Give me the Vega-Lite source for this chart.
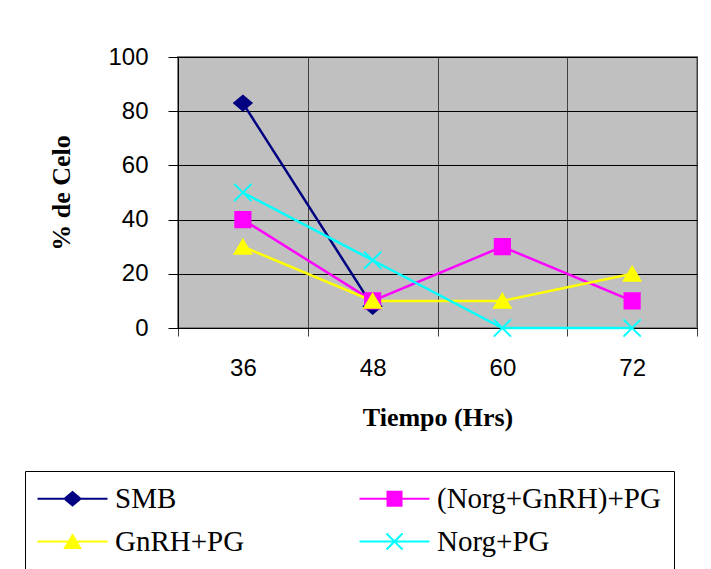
{
  "$schema": "https://vega.github.io/schema/vega-lite/v6.json",
  "width": 519,
  "height": 271,
  "autosize": "none",
  "padding": {"left": 178, "top": 57, "right": 14, "bottom": 241},
  "background": "white",
  "data": {
    "values": [
      {"serie": "SMB", "tiempo": "36", "celo": 83},
      {"serie": "SMB", "tiempo": "48", "celo": 8},
      {"serie": "(Norg+GnRH)+PG", "tiempo": "36", "celo": 40},
      {"serie": "(Norg+GnRH)+PG", "tiempo": "48", "celo": 10},
      {"serie": "(Norg+GnRH)+PG", "tiempo": "60", "celo": 30},
      {"serie": "(Norg+GnRH)+PG", "tiempo": "72", "celo": 10},
      {"serie": "GnRH+PG", "tiempo": "36", "celo": 30},
      {"serie": "GnRH+PG", "tiempo": "48", "celo": 10},
      {"serie": "GnRH+PG", "tiempo": "60", "celo": 10},
      {"serie": "GnRH+PG", "tiempo": "72", "celo": 20},
      {"serie": "Norg+PG", "tiempo": "36", "celo": 50},
      {"serie": "Norg+PG", "tiempo": "48", "celo": 25},
      {"serie": "Norg+PG", "tiempo": "60", "celo": 0},
      {"serie": "Norg+PG", "tiempo": "72", "celo": 0}
    ]
  },
  "encoding": {
    "x": {
      "field": "tiempo",
      "type": "nominal",
      "bandPosition": 0.5,
      "scale": {"type": "band", "paddingInner": 0, "paddingOuter": 0},
      "axis": {
        "title": "Tiempo (Hrs)",
        "labelAngle": 0,
        "tickBand": "extent",
        "grid": true,
        "gridColor": "#404040",
        "gridWidth": 1,
        "tickColor": "#404040",
        "tickSize": 8,
        "domainColor": "black",
        "labelPadding": 20,
        "titlePadding": 24
      }
    },
    "y": {
      "field": "celo",
      "type": "quantitative",
      "scale": {"domain": [0, 100], "nice": false},
      "axis": {
        "title": "% de Celo",
        "values": [0, 20, 40, 60, 80, 100],
        "grid": true,
        "gridColor": "black",
        "gridWidth": 1,
        "tickColor": "black",
        "tickSize": 10,
        "domainColor": "black",
        "labelPadding": 20,
        "titlePadding": 33
      }
    }
  },
  "layer": [
    {
      "mark": {"type": "line", "strokeWidth": 2.5},
      "encoding": {
        "color": {
          "field": "serie",
          "type": "nominal",
          "scale": {
            "domain": ["SMB", "(Norg+GnRH)+PG", "GnRH+PG", "Norg+PG"],
            "range": ["#000080", "#FF00FF", "#FFFF00", "#00FFFF"]
          },
          "legend": {
            "title": null,
            "orient": "none",
            "direction": "horizontal",
            "legendX": -153,
            "legendY": 414,
            "columns": 2,
            "columnPadding": 110,
            "rowPadding": 13,
            "padding": 13,
            "strokeColor": "black",
            "fillColor": "white",
            "symbolSize": 256,
            "symbolStrokeWidth": 2,
            "labelOffset": 48,
            "labelFont": "Liberation Serif",
            "labelFontSize": 29,
            "labelColor": "black",
            "labelLimit": 400,
            "encode": {
              "symbols": {
                "update": {
                  "shape": {"signal": "datum.value === 'SMB' ? 'M-1.875,0H6.875M2.5,-0.85L3.5,0L2.5,0.85L1.5,0Z' : datum.value === '(Norg+GnRH)+PG' ? 'M-1.875,0H6.875M1.625,-0.875H3.375V0.875H1.625Z' : datum.value === 'GnRH+PG' ? 'M-1.875,0H6.875M2.5,-0.8L3.45,0.8H1.55Z' : 'M-1.875,0H6.875M1.5,-1L3.5,1M1.5,1L3.5,-1'"},
                  "fill": {"signal": "scale('color', datum.value)"},
                  "strokeWidth": {"value": 2},
                  "opacity": {"value": 1}
                }
              }
            }
          }
        }
      }
    },
    {
      "transform": [{"filter": {"field": "serie", "equal": "SMB"}}],
      "mark": {"type": "point", "shape": "M0,-0.85L1,0L0,0.85L-1,0Z", "filled": true, "fill": "#000080", "stroke": "#000080", "opacity": 1, "size": 300, "strokeWidth": 2}
    },
    {
      "transform": [{"filter": {"field": "serie", "equal": "(Norg+GnRH)+PG"}}],
      "mark": {"type": "point", "shape": "M-0.875,-0.875H0.875V0.875H-0.875Z", "filled": true, "fill": "#FF00FF", "stroke": "#FF00FF", "opacity": 1, "size": 300, "strokeWidth": 2}
    },
    {
      "transform": [{"filter": {"field": "serie", "equal": "GnRH+PG"}}],
      "mark": {"type": "point", "shape": "M0,-0.8L0.95,0.8H-0.95Z", "filled": true, "fill": "#FFFF00", "stroke": "#FFFF00", "opacity": 1, "size": 300, "strokeWidth": 2}
    },
    {
      "transform": [{"filter": {"field": "serie", "equal": "Norg+PG"}}],
      "mark": {"type": "point", "shape": "M-1,-1L1,1M-1,1L1,-1", "filled": true, "fill": "#00FFFF", "stroke": "#00FFFF", "opacity": 1, "size": 300, "strokeWidth": 2}
    }
  ],
  "config": {
    "view": {"fill": "#C0C0C0", "stroke": "#808080", "strokeWidth": 2},
    "axis": {
      "labelFont": "Liberation Sans",
      "labelFontSize": 24,
      "labelColor": "black",
      "titleFont": "Liberation Serif",
      "titleFontSize": 26,
      "titleFontWeight": "bold",
      "titleColor": "black"
    }
  }
}
